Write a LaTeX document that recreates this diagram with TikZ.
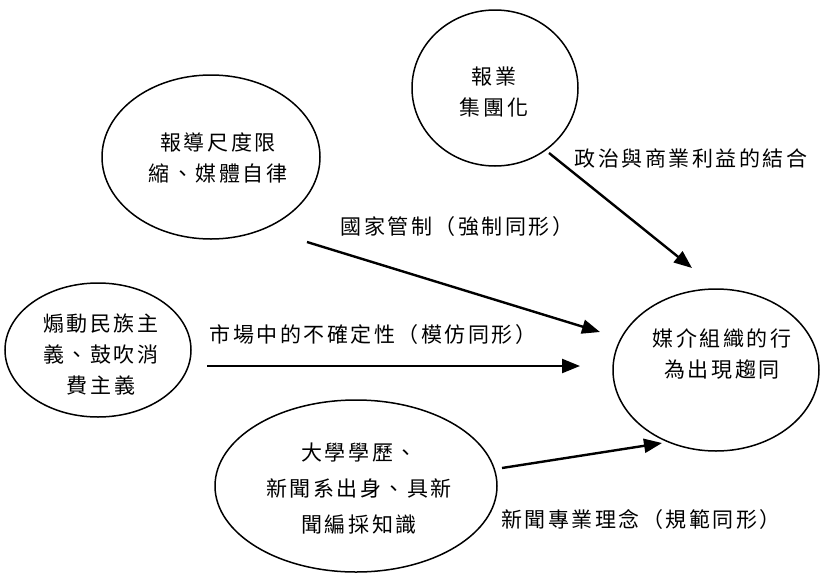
\documentclass[tikz,border=0pt]{standalone}
\usepackage{fontspec}
\newfontfamily\cjk{Noto Sans CJK TC}[LetterSpace=12]
\usetikzlibrary{arrows.meta,shapes.geometric}
\tikzset{
  bubble/.style={draw, ellipse, line width=1.5pt, inner sep=0pt},
  txt/.style={align=center, inner sep=0pt, font=\cjk\fontsize{21}{31}\selectfont},
  txtwide/.style={align=center, inner sep=0pt, font=\cjk\fontsize{21}{36}\selectfont},
  link/.style={line width=2.4pt, -{Triangle[length=18pt,width=14pt]}}
}
\begin{document}
\begin{tikzpicture}[x=1pt,y=-1pt]
\useasboundingbox[fill=white] (0,0) rectangle (823,574);

% ellipses
\node[bubble, minimum width=166pt, minimum height=156pt] (e1) at (495,88) {};
\node[bubble, minimum width=218pt, minimum height=164pt] (e2) at (211,157) {};
\node[bubble, minimum width=186pt, minimum height=134pt] (e3) at (98,350) {};
\node[bubble, minimum width=206pt, minimum height=162pt] (e4) at (716,370) {};
\node[bubble, minimum width=282pt, minimum height=172pt] (e5) at (356,486) {};

% ellipse texts
\node[txt] (t1) at (494,92) {報業\\集團化};
\node[txt] (t2) at (218,158) {報導尺度限\\縮、媒體自律};
\node[txt] (t3) at (101,355) {煽動民族主\\義、鼓吹消\\費主義};
\node[txt] (t4) at (722,354) {媒介組織的行\\為出現趨同};
\node[txtwide] (t5) at (359,489) {大學學歷、\\新聞系出身、具新\\聞編採知識};

% connector labels
\node[txt] (l1) at (691,158) {政治與商業利益的結合};
\node[txt] (l2) at (457,227) {國家管制（強制同形）};
\node[txt] (l3) at (373,335) {市場中的不確定性（模仿同形）};
\node[txt] (l4) at (641,520) {新聞專業理念（規範同形）};

% connector end points
\coordinate (a1s) at (549,153);
\coordinate (a1e) at (692,268);
\coordinate (a2s) at (307,242);
\coordinate (a2e) at (600,332);
\coordinate (a3s) at (207,366);
\coordinate (a3e) at (580,366);
\coordinate (a4s) at (502,468);
\coordinate (a4e) at (662,443);

\draw[link] (a1s) -- (a1e);
\draw[link] (a2s) -- (a2e);
\draw[link] (a3s) -- (a3e);
\draw[link] (a4s) -- (a4e);
\end{tikzpicture}
\end{document}
